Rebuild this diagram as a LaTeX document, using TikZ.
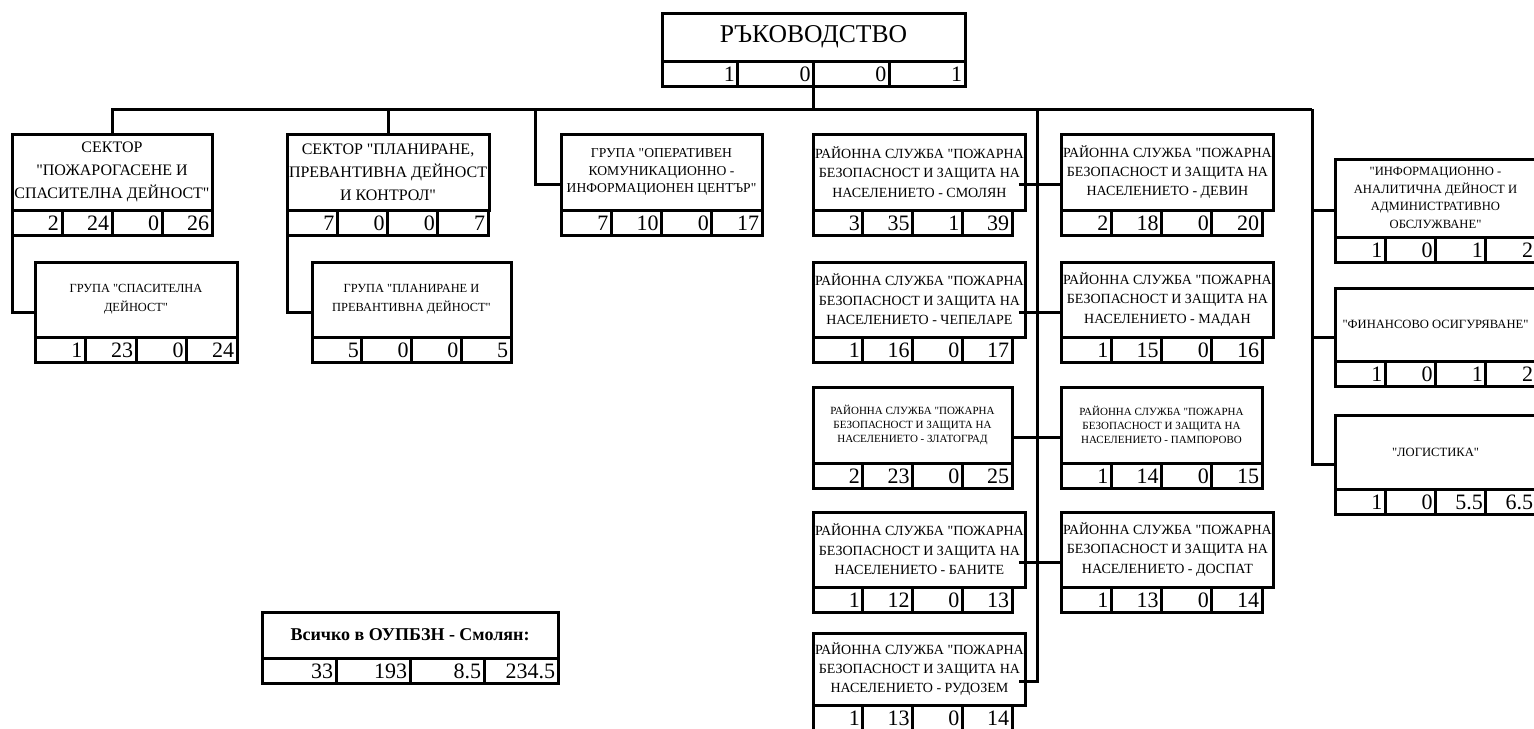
\documentclass[tikz,border=0pt]{standalone}
\usepackage{fontspec}
\setmainfont{Liberation Serif}[Ligatures=TeXOff]
\usetikzlibrary{calc,positioning}

% one unit: text part with a row of four numbers below it
\newcommand{\orgunit}[7][]{%
  \node[unittext, minimum width=#4pt, minimum height=#5pt, #1] (#2) at (#3) {#6};
  \pgfmathsetmacro\cellw{#4/4}
  \pgfmathsetmacro\celltw{#4/4-3}
  \foreach \cellval [count=\k] in {#7} {
    \node[unitcell, text width=\celltw pt] (#2-\k) at ($(#2.south west)+(\k*\cellw-\cellw,0)$) {\cellval};
  }
  \coordinate (#2-w) at ($(#2.north west)!0.5!(#2-1.south west)$);
  \coordinate (#2-e) at ($(#2.north east)!0.5!(#2-4.south east)$);
}

\begin{document}
\begin{tikzpicture}[x=1pt, y=-1pt,
unittext/.style={rectangle, draw, line width=1.5pt, outer sep=0pt, anchor=north west, align=center, inner sep=1pt},
unitcell/.style={rectangle, draw, line width=1.5pt, outer sep=0pt, anchor=north west, align=right, minimum height=12.5pt, text height=7.6pt, text depth=0pt, inner xsep=1.5pt, inner ysep=2.2pt, font=\fontsize{11}{11}\selectfont},
link/.style={line width=1.5pt},
headfont/.style={font=\fontsize{12.8}{14}\selectfont},
sectorfont/.style={font=\fontsize{8}{11.5}\selectfont},
groupfont/.style={font=\fontsize{6.2}{9.5}\selectfont},
okicfont/.style={font=\fontsize{6.8}{8.7}\selectfont},
rsfont/.style={font=\fontsize{7}{9.7}\selectfont},
rssmall/.style={font=\fontsize{5.5}{6.9}\selectfont},
deptfont/.style={font=\fontsize{6.3}{8.8}\selectfont},
totalfont/.style={font=\bfseries\fontsize{9}{11}\selectfont},
]
\useasboundingbox (0,0) rectangle (767,364);

%Nodes
\orgunit[headfont]{ruk}{331,6.5}{151.5}{24}{РЪКОВОДСТВО}{1,0,0,1}

\orgunit[sectorfont]{sec1}{6,67}{100}{38}{СЕКТОР\\"ПОЖАРОГАСЕНЕ И\\СПАСИТЕЛНА ДЕЙНОСТ"}{2,24,0,26}
\orgunit[sectorfont]{sec2}{143.5,67}{100.5}{38}{СЕКТОР "ПЛАНИРАНЕ,\\ПРЕВАНТИВНА ДЕЙНОСТ\\И КОНТРОЛ"}{7,0,0,7}
\orgunit[groupfont]{grp1}{17.5,131}{101}{37.5}{ГРУПА "СПАСИТЕЛНА\\ДЕЙНОСТ"}{1,23,0,24}
\orgunit[groupfont]{grp2}{156,131}{99.5}{37.5}{ГРУПА "ПЛАНИРАНЕ И\\ПРЕВАНТИВНА ДЕЙНОСТ"}{5,0,0,5}
\orgunit[okicfont]{okic}{280.5,67}{100.5}{38}{ГРУПА "ОПЕРАТИВЕН\\КОМУНИКАЦИОННО -\\ИНФОРМАЦИОНЕН ЦЕНТЪР"}{7,10,0,17}

\orgunit[rsfont]{smol}{406.5,67}{99.5}{38}{РАЙОННА СЛУЖБА "ПОЖАРНА\\БЕЗОПАСНОСТ И ЗАЩИТА НА\\НАСЕЛЕНИЕТО - СМОЛЯН}{3,35,1,39}
\orgunit[rsfont]{devin}{530.5,67}{100.5}{38}{РАЙОННА СЛУЖБА "ПОЖАРНА\\БЕЗОПАСНОСТ И ЗАЩИТА НА\\НАСЕЛЕНИЕТО - ДЕВИН}{2,18,0,20}
\orgunit[rsfont]{chep}{406.5,131}{99.5}{37.5}{РАЙОННА СЛУЖБА "ПОЖАРНА\\БЕЗОПАСНОСТ И ЗАЩИТА НА\\НАСЕЛЕНИЕТО - ЧЕПЕЛАРЕ}{1,16,0,17}
\orgunit[rsfont]{madan}{530.5,131}{100.5}{37.5}{РАЙОННА СЛУЖБА "ПОЖАРНА\\БЕЗОПАСНОСТ И ЗАЩИТА НА\\НАСЕЛЕНИЕТО - МАДАН}{1,15,0,16}
\orgunit[rssmall]{zlat}{406.5,193.5}{99.5}{38}{РАЙОННА СЛУЖБА "ПОЖАРНА\\БЕЗОПАСНОСТ И ЗАЩИТА НА\\НАСЕЛЕНИЕТО - ЗЛАТОГРАД}{2,23,0,25}
\orgunit[rssmall]{pamp}{530.5,193.5}{100.5}{38}{РАЙОННА СЛУЖБА "ПОЖАРНА\\БЕЗОПАСНОСТ И ЗАЩИТА НА\\НАСЕЛЕНИЕТО - ПАМПОРОВО}{1,14,0,15}
\orgunit[rsfont]{ban}{406.5,256}{99.5}{37.5}{РАЙОННА СЛУЖБА "ПОЖАРНА\\БЕЗОПАСНОСТ И ЗАЩИТА НА\\НАСЕЛЕНИЕТО - БАНИТЕ}{1,12,0,13}
\orgunit[rsfont]{dosp}{530.5,256}{100.5}{37.5}{РАЙОННА СЛУЖБА "ПОЖАРНА\\БЕЗОПАСНОСТ И ЗАЩИТА НА\\НАСЕЛЕНИЕТО - ДОСПАТ}{1,13,0,14}
\orgunit[rsfont]{rud}{406.5,316.5}{99.5}{36}{РАЙОННА СЛУЖБА "ПОЖАРНА\\БЕЗОПАСНОСТ И ЗАЩИТА НА\\НАСЕЛЕНИЕТО - РУДОЗЕМ}{1,13,0,14}

\orgunit[deptfont]{info}{667.5,79.5}{100.5}{39}{"ИНФОРМАЦИОННО -\\АНАЛИТИЧНА ДЕЙНОСТ И\\АДМИНИСТРАТИВНО\\ОБСЛУЖВАНЕ"}{1,0,1,2}
\orgunit[deptfont]{fin}{667.5,144}{100.5}{36.5}{"ФИНАНСОВО ОСИГУРЯВАНЕ"}{1,0,1,2}
\orgunit[deptfont]{log}{667.5,207.5}{100.5}{37}{"ЛОГИСТИКА"}{1,0,5.5,6.5}

\orgunit[totalfont]{total}{131,306}{148}{23}{Всичко в ОУПБЗН - Смолян:}{33,193,8.5,234.5}

\coordinate (bus) at (0,54.5);
\coordinate (okic-bend) at (267.5,54.5);
\coordinate (spine) at (518.5,54.5);
\coordinate (rdrop) at (656,54.5);

%Lines
\draw[link] (ruk-2.south east) -- (ruk-2.south east |- bus);
\draw[link] (sec1.north) |- (rdrop);
\draw[link] (sec2.north) -- (sec2.north |- bus);
\draw[link] (sec1-1.south west) |- (grp1-w);
\draw[link] (sec2-1.south west) |- (grp2-w);
\draw[link] (okic-bend) |- (okic-w);
\draw[link] (spine) |- (rud-e);
\draw[link] (smol-e) -- (devin-w);
\draw[link] (chep-e) -- (madan-w);
\draw[link] (zlat-e) -- (pamp-w);
\draw[link] (ban-e) -- (dosp-w);
\draw[link] (rdrop) |- (log-w);
\draw[link] (rdrop |- info-w) -- (info-w);
\draw[link] (rdrop |- fin-w) -- (fin-w);

\end{tikzpicture}
\end{document}
